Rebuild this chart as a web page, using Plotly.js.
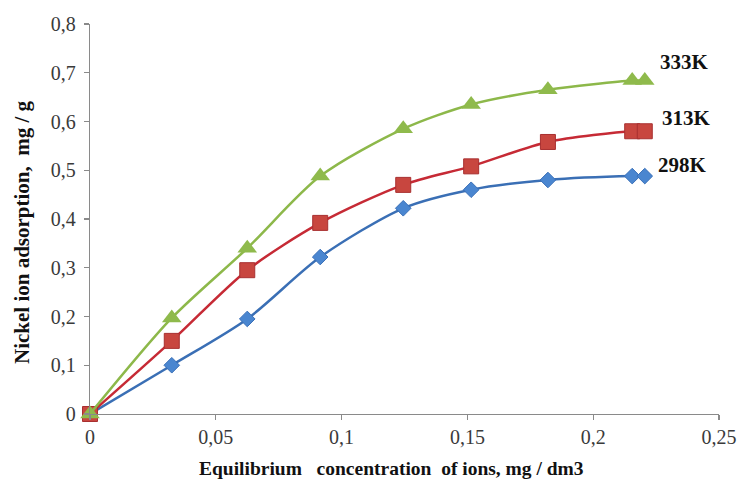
<!DOCTYPE html>
<html>
<head>
<meta charset="utf-8">
<script src="https://cdn.plot.ly/plotly-3.0.1.min.js"></script>
<style>html,body{margin:0;padding:0;background:#fff;}#chart{width:739px;height:484px;}</style>
</head>
<body>
<div id="chart"></div>
<script>
// Equilibrium concentration of ions, mg/dm3
const concentration = [0, 0.0325, 0.0625, 0.0915, 0.1245, 0.1515, 0.182, 0.2155, 0.2205];
// Nickel ion adsorption, mg/g
const ads298 = [0, 0.100, 0.195, 0.322, 0.422, 0.460, 0.480, 0.488, 0.488];
const ads313 = [0, 0.150, 0.295, 0.392, 0.470, 0.508, 0.558, 0.580, 0.580];
const ads333 = [0, 0.197, 0.340, 0.488, 0.585, 0.635, 0.665, 0.684, 0.684];
const seriesNames = ['298K', '313K', '333K'];
const xTicks = [0, 0.05, 0.1, 0.15, 0.2, 0.25];
const yTicks = [0, 0.1, 0.2, 0.3, 0.4, 0.5, 0.6, 0.7, 0.8];

const serif = '"Liberation Serif", "Times New Roman", serif';

const traces = [
  {x: concentration, y: ads298, name: seriesNames[0], mode: 'lines+markers', cliponaxis: false,
   line: {color: '#3a6fb5', width: 2.5, shape: 'spline', smoothing: 0.8},
   marker: {symbol: 'diamond', size: 12, color: '#4a86d0', line: {color: '#3a70b8', width: 1}}},
  {x: concentration, y: ads313, name: seriesNames[1], mode: 'lines+markers', cliponaxis: false,
   line: {color: '#c62a35', width: 2.5, shape: 'spline', smoothing: 0.8},
   marker: {symbol: 'square', size: 15, color: '#c8463f', line: {color: '#a83030', width: 1}}},
  {x: concentration, y: ads333, name: seriesNames[2], mode: 'lines+markers', cliponaxis: false,
   line: {color: '#8db84a', width: 2.5, shape: 'spline', smoothing: 0.8},
   marker: {symbol: 'triangle-up', size: 17, color: '#8fba4c', line: {color: '#8fba4c', width: 0}}}
];

const last = concentration.length - 1;
const labelAnn = [
  {x: concentration[last], y: ads333[last], text: '<b>' + seriesNames[2] + '</b>', xshift: 13, yshift: 19},
  {x: concentration[last], y: ads313[last], text: '<b>' + seriesNames[1] + '</b>', xshift: 15, yshift: 13},
  {x: concentration[last], y: ads298[last], text: '<b>' + seriesNames[0] + '</b>', xshift: 11, yshift: 11}
].map(a => Object.assign({xref: 'x', yref: 'y', xanchor: 'left', yanchor: 'middle', showarrow: false,
  font: {family: serif, size: 21, color: '#111'}}, a));

const titleAnn = [
  {xref: 'paper', yref: 'paper', x: (391 - 90) / 629, y: -(468 - 414) / 390, xanchor: 'center', yanchor: 'middle',
   showarrow: false, text: '<b>Equilibrium\u00A0\u00A0\u00A0concentration\u00A0\u00A0of ions, mg / dm3</b>',
   font: {family: serif, size: 19.5, color: '#111'}},
  {xref: 'paper', yref: 'paper', x: -(90 - 22) / 629, y: (414 - 232) / 390, xanchor: 'center', yanchor: 'middle',
   textangle: -90, showarrow: false, text: '<b>Nickel ion adsorption,\u00A0\u00A0mg / g</b>',
   font: {family: serif, size: 21, color: '#111'}}
];

const axisCommon = {
  showgrid: false, zeroline: false, showline: true, linecolor: '#8a8a8a', linewidth: 1.3,
  ticks: 'outside', ticklen: 5, tickcolor: '#8a8a8a', tickwidth: 1.3,
  tickfont: {family: serif, size: 20, color: '#3a3a3a'}
};

const layout = {
  width: 739, height: 484,
  margin: {l: 90, r: 20, t: 24, b: 70},
  paper_bgcolor: '#ffffff', plot_bgcolor: '#ffffff',
  separators: ', ',
  showlegend: false,
  xaxis: Object.assign({}, axisCommon, {range: [0, 0.25], tickvals: xTicks, ticktext: xTicks.map(v => String(v).replace('.', ','))}),
  yaxis: Object.assign({}, axisCommon, {range: [0, 0.8], tickvals: yTicks, ticktext: yTicks.map(v => String(v).replace('.', ',')), ticklabelstandoff: 4}),
  annotations: labelAnn.concat(titleAnn)
};

Plotly.newPlot('chart', traces, layout, {staticPlot: true, displayModeBar: false});
</script>
</body>
</html>
